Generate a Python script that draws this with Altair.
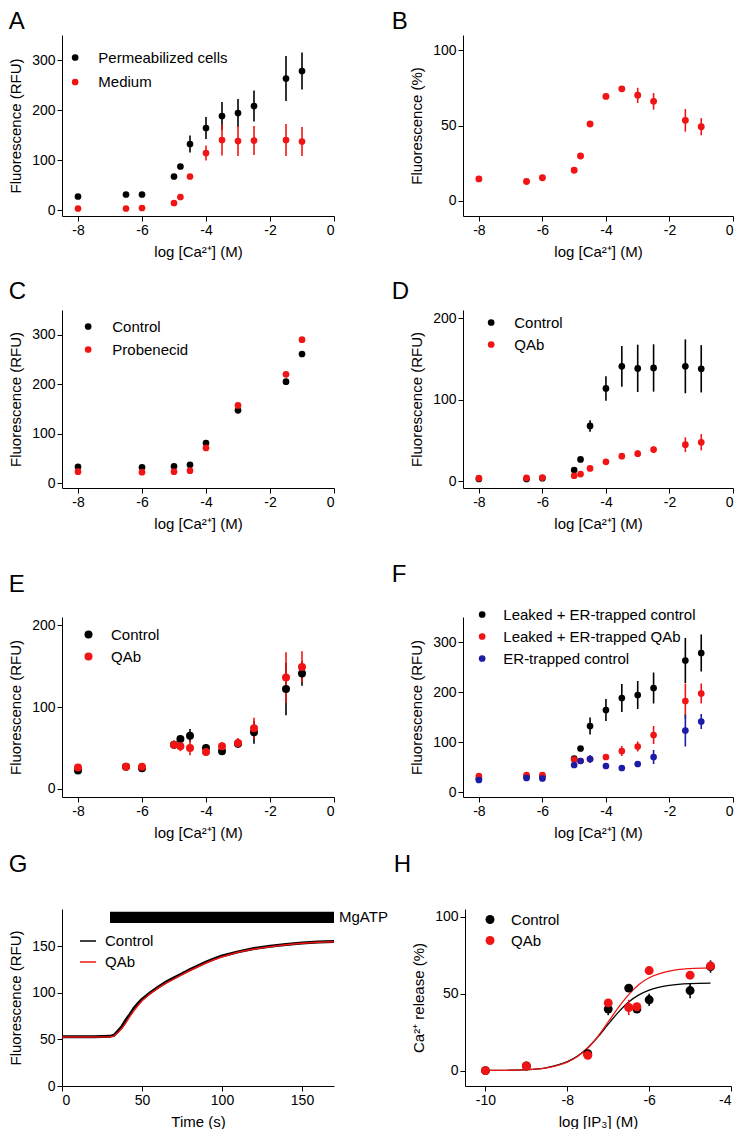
import altair as alt
import pandas as pd

FONT = "Liberation Sans"
BLACK = "#000000"
RED = "#f01414"
BLUE = "#1c1ca6"

# ---------------- data ----------------
ca_x = [-8, -6.5, -6, -5, -4.8, -4.5, -4, -3.5, -3, -2.5, -1.5, -1]

# A
a_perm = [27, 31, 31, 67, 87, 132, 164, 188, 194, 208, 263, 278]
a_perm_err = [0, 0, 0, 0, 0, 17, 22, 28, 28, 31, 45, 37]
a_med = [3, 3, 4, 14, 26, 67, 114, 140, 138, 139, 140, 137]
a_med_err = [0, 0, 0, 0, 0, 0, 15, 31, 30, 29, 32, 29]

# B
b_pct = [14.6, 12.9, 15.3, 20.3, 29.8, 51, 69.3, 74.3, 70, 66, 53.4, 49.2]
b_err = [0, 0, 0, 0, 0, 0, 0, 0, 5, 5.5, 7.5, 5.7]

# C
c_x = [-8, -6, -5, -4.5, -4, -3, -1.5, -1]
c_ctrl = [33, 32, 34, 37, 81, 147, 205, 261]
c_prob = [23, 22, 23, 25, 71, 157, 220, 290]
c_err = [0, 0, 0, 0, 0, 0, 0, 0]

# D
d_ctrl = [3, 3, 4, 14, 27, 68, 114, 141, 138.5, 139, 141, 138]
d_ctrl_err = [0, 0, 0, 0, 0, 7, 15, 25, 29, 29, 33, 29]
d_qab = [4, 4.4, 4.8, 7, 9, 16, 24, 31, 34, 39, 45, 48]
d_qab_err = [0, 0, 0, 0, 0, 0, 0, 0, 4, 4, 9, 10]

# E
e_ctrl = [22.4, 27, 25, 54, 61, 65, 50, 46, 55, 69, 122, 141]
e_ctrl_err = [0, 0, 0, 0, 0, 8, 4, 3, 0, 14, 32, 15]
e_qab = [26, 27, 27, 54, 52, 50, 45, 52, 56, 74, 136, 149]
e_qab_err = [0, 0, 0, 5, 6, 9, 5, 5, 6, 13, 31, 19]

# F
f_black = [27, 31, 31, 67, 87, 132, 164, 188, 194, 208, 263, 278]
f_black_err = [0, 0, 0, 0, 0, 17, 22, 28, 28, 31, 45, 37]
f_red = [32, 34, 34, 65, 62, 66, 70, 82, 91, 114, 182, 197]
f_red_err = [0, 0, 0, 0, 0, 0, 0, 10, 10, 18, 35, 20]
f_blue = [24, 28, 27, 54, 62, 66, 52, 48, 56, 70, 123, 141]
f_blue_err = [0, 0, 0, 0, 0, 8, 4, 3, 0, 14, 32, 15]

# G
g_t = [0, 10, 20, 30, 32.5, 35, 37.5, 40, 42.5, 45, 47.5, 50, 55, 60, 65, 70,
       75, 80, 85, 90, 95, 100, 110, 120, 130, 140, 150, 160, 170]
g_ctrl = [53, 53, 53, 53.3, 54.5, 59, 64, 71, 77, 83.5, 88.5, 93, 100, 106,
          111.5, 116, 120.5, 125, 129, 133, 136.5, 139.6, 144, 147.6, 150,
          152, 153.5, 154.5, 155]
g_qab = [52.5, 52.5, 52.5, 52.8, 53.5, 57.5, 62, 68, 75, 81, 86.5, 91.5, 99,
         105, 110.5, 115, 119.5, 124, 128, 132, 135.5, 138.8, 143.5, 147,
         149.6, 151.6, 153.2, 154.2, 154.8]
mgatp_start = [30]
mgatp_end = [170]
mgatp_low = [175]
mgatp_high = [187]

# H
h_x = [-10, -9, -7.5, -7, -6.5, -6.3, -6, -5, -4.5]
h_ctrl = [0, 3, 11, 40, 53.6, 40, 46, 52, 67.6]
h_ctrl_err = [0, 0, 0, 4, 0, 2, 4, 5, 4]
h_qab = [0, 3, 10, 44, 41, 41.5, 65, 62, 68]
h_qab_err = [0, 0, 0, 0, 5, 0, 0, 0, 0]
h_fit_x = [-10, -9.5, -9, -8.5, -8, -7.75, -7.5, -7.25, -7, -6.75, -6.5,
           -6.25, -6, -5.5, -5, -4.5]
h_fit_ctrl = [0.1, 0.2, 0.6, 2.0, 5.8, 9.5, 14.9, 22, 30.2, 38, 44.6, 49.2,
              52.3, 55.4, 56.5, 56.8]
h_fit_qab = [0.1, 0.2, 0.6, 1.8, 5.5, 9.2, 14.7, 22.3, 31.6, 41.1, 49.4,
             55.9, 60.3, 64.7, 66.3, 66.8]

CA_TITLE = "log [Ca\u00b2\u207a] (M)"
LBL = "'' + datum.value"
TFS = 15  # axis title / legend font size


def frame(xs, series):
    rows = []
    for name, ys, errs in series:
        for x, y, e in zip(xs, ys, errs):
            rows.append({"x": x, "y": y, "lo": y - e, "hi": y + e, "s": name})
    return pd.DataFrame(rows)


def legend(cx, cy, label_start, step, size):
    d = size ** 0.5
    return alt.Legend(orient="none", legendX=cx - d / 2 - 1, legendY=cy - 7,
                      title=None, symbolType="circle", symbolSize=size,
                      labelOffset=label_start - cx - d / 2 - 2,
                      rowPadding=step - TFS, padding=0, labelLimit=400,
                      symbolOpacity=1, symbolStrokeWidth=0)


def title(letter, off, dx=0):
    return alt.TitleParams(letter, anchor="start", frame="bounds", offset=off,
                           fontSize=24, fontWeight="normal", font=FONT,
                           color="black", dx=dx)


def axes(xdom, xvals, xtitle, ydom, yvals, ytitle):
    xs = alt.Scale(domain=xdom, nice=False, zero=False)
    ys = alt.Scale(domain=ydom, nice=False, zero=False)
    xa = alt.Axis(values=xvals, title=xtitle, labelExpr=LBL)
    ya = alt.Axis(values=yvals, title=ytitle, labelExpr=LBL)
    return xs, ys, xa, ya


def dot_panel(letter, df, names, colors, xdom, xvals, xtitle, ydom, yvals,
              ytitle, size, leg, w, h, toff, tdx=0):
    xs, ys, xa, ya = axes(xdom, xvals, xtitle, ydom, yvals, ytitle)
    cs = alt.Scale(domain=names, range=colors)
    rules = alt.Chart(df).mark_rule(strokeWidth=1.6).encode(
        x=alt.X("x:Q", scale=xs, axis=xa, title=xtitle),
        y=alt.Y("lo:Q", scale=ys, axis=ya, title=ytitle),
        y2="hi:Q",
        color=alt.Color("s:N", scale=cs, legend=leg),
    )
    pts = alt.Chart(df).mark_circle(size=size, opacity=1).encode(
        x=alt.X("x:Q", scale=xs, axis=xa, title=xtitle),
        y=alt.Y("y:Q", scale=ys, axis=ya, title=ytitle),
        color=alt.Color("s:N", scale=cs, legend=leg),
    )
    return alt.layer(rules, pts).properties(width=w, height=h,
                                             title=title(letter, toff, tdx))


WL = 272   # left column plot width
WR = 270   # right column plot width
WH = 266   # panel H plot width
H1, H2, H3, H4 = 181, 178, 180, 177
RDX = -18  # letters of the right-hand column sit left of the axis title

A = dot_panel("A", frame(ca_x, [("Permeabilized cells", a_perm, a_perm_err),
                                ("Medium", a_med, a_med_err)]),
              ["Permeabilized cells", "Medium"], [BLACK, RED],
              [-8.5, 0], [-8, -6, -4, -2, 0], CA_TITLE,
              [-12, 350], [0, 100, 200, 300], "Fluorescence (RFU)",
              45, legend(10, 22, 31, 23.5, 45), WL, H1, 1)

B = dot_panel("B", frame(ca_x, [("Medium", b_pct, b_err)]),
              ["Medium"], [RED],
              [-8.5, 0], [-8, -6, -4, -2, 0], CA_TITLE,
              [-10, 110], [0, 50, 100], "Fluorescence (%)",
              48, None, WR, H1, 1, RDX)

C = dot_panel("C", frame(c_x, [("Control", c_ctrl, c_err),
                               ("Probenecid", c_prob, c_err)]),
              ["Control", "Probenecid"], [BLACK, RED],
              [-8.5, 0], [-8, -6, -4, -2, 0], CA_TITLE,
              [-10, 350], [0, 100, 200, 300], "Fluorescence (RFU)",
              45, legend(23, 16, 45, 22, 45), WL, H2, 6)

D = dot_panel("D", frame(ca_x, [("Control", d_ctrl, d_ctrl_err),
                                ("QAb", d_qab, d_qab_err)]),
              ["Control", "QAb"], [BLACK, RED],
              [-8.5, 0], [-8, -6, -4, -2, 0], CA_TITLE,
              [-8, 210], [0, 100, 200], "Fluorescence (RFU)",
              45, legend(25, 12, 46, 21, 45), WR, H2, 6, RDX)

E = dot_panel("E", frame(ca_x, [("Control", e_ctrl, e_ctrl_err),
                                ("QAb", e_qab, e_qab_err)]),
              ["Control", "QAb"], [BLACK, RED],
              [-8.5, 0], [-8, -6, -4, -2, 0], CA_TITLE,
              [-10, 210], [0, 100, 200], "Fluorescence (RFU)",
              64, legend(24, 17, 45, 21, 64), WL, H3, 20)

F = dot_panel("F", frame(ca_x, [("Leaked + ER-trapped control", f_black, f_black_err),
                                ("Leaked + ER-trapped QAb", f_red, f_red_err),
                                ("ER-trapped control", f_blue, f_blue_err)]),
              ["Leaked + ER-trapped control", "Leaked + ER-trapped QAb",
               "ER-trapped control"], [BLACK, RED, BLUE],
              [-8.5, 0], [-8, -6, -4, -2, 0], CA_TITLE,
              [-10, 350], [0, 100, 200, 300], "Fluorescence (RFU)",
              45, legend(16, -3, 35, 21, 45), WR, H3, 20, RDX)

# ---- G ----
gxs, gys, gxa, gya = axes([0, 170], [0, 50, 100, 150], "Time (s)",
                          [0, 190], [0, 50, 100, 150], "Fluorescence (RFU)")
gdf = pd.DataFrame({"t": g_t + g_t, "v": g_ctrl + g_qab,
                    "s": ["Control"] * len(g_t) + ["QAb"] * len(g_t)})
gcs = alt.Scale(domain=["Control", "QAb"], range=[BLACK, RED])
g_leg = alt.Legend(orient="none", legendX=17, legendY=23, title=None,
                   symbolType="stroke", symbolSize=256, symbolStrokeWidth=1.5,
                   labelOffset=8, rowPadding=4, padding=0, labelLimit=400)
g_ctrl_line = alt.Chart(gdf).transform_filter("datum.s == 'Control'").mark_line(
    strokeWidth=3).encode(
    x=alt.X("t:Q", scale=gxs, axis=gxa, title="Time (s)"),
    y=alt.Y("v:Q", scale=gys, axis=gya, title="Fluorescence (RFU)"),
    color=alt.Color("s:N", scale=gcs, legend=g_leg))
g_qab_line = alt.Chart(gdf).transform_filter("datum.s == 'QAb'").mark_line(
    strokeWidth=1.5).encode(
    x=alt.X("t:Q", scale=gxs, axis=gxa, title="Time (s)"),
    y=alt.Y("v:Q", scale=gys, axis=gya, title="Fluorescence (RFU)"),
    color=alt.Color("s:N", scale=gcs, legend=g_leg))
bar_df = pd.DataFrame({"x0": mgatp_start, "x1": mgatp_end,
                       "y0": mgatp_low, "y1": mgatp_high,
                       "ym": [(a + b) / 2 for a, b in zip(mgatp_low, mgatp_high)],
                       "label": ["MgATP"]})
g_bar = alt.Chart(bar_df).mark_rect(color="black").encode(
    x=alt.X("x0:Q", scale=gxs, axis=gxa, title="Time (s)"), x2="x1:Q",
    y=alt.Y("y0:Q", scale=gys, axis=gya, title="Fluorescence (RFU)"), y2="y1:Q")
g_text = alt.Chart(bar_df).mark_text(align="left", baseline="middle", dx=5,
                                     fontSize=TFS, font=FONT, color="black").encode(
    x=alt.X("x1:Q", scale=gxs, axis=gxa, title="Time (s)"),
    y=alt.Y("ym:Q", scale=gys, axis=gya, title="Fluorescence (RFU)"),
    text="label:N")
G = alt.layer(g_bar, g_text, g_ctrl_line, g_qab_line).properties(
    width=WL, height=H4, title=title("G", 32))

# ---- H ----
H_TITLE_X = "log [IP\u2083] (M)"
H_TITLE_Y = "Ca\u00b2\u207a release (%)"
hxs, hys, hxa, hya = axes([-10.5, -4], [-10, -8, -6, -4], H_TITLE_X,
                          [-10, 105], [0, 50, 100], H_TITLE_Y)
hcs = alt.Scale(domain=["Control", "QAb"], range=[BLACK, RED])
h_leg = legend(23, 10, 43, 20, 80)
hdf = frame(h_x, [("Control", h_ctrl, h_ctrl_err), ("QAb", h_qab, h_qab_err)])
fitdf = pd.DataFrame({"x": h_fit_x + h_fit_x, "y": h_fit_ctrl + h_fit_qab,
                      "s": ["Control"] * len(h_fit_x) + ["QAb"] * len(h_fit_x)})
h_curves = alt.Chart(fitdf).mark_line(strokeWidth=1.3, interpolate="monotone").encode(
    x=alt.X("x:Q", scale=hxs, axis=hxa, title=H_TITLE_X),
    y=alt.Y("y:Q", scale=hys, axis=hya, title=H_TITLE_Y),
    color=alt.Color("s:N", scale=hcs, legend=h_leg))
h_rules = alt.Chart(hdf).mark_rule(strokeWidth=1.6).encode(
    x=alt.X("x:Q", scale=hxs, axis=hxa, title=H_TITLE_X),
    y=alt.Y("lo:Q", scale=hys, axis=hya, title=H_TITLE_Y), y2="hi:Q",
    color=alt.Color("s:N", scale=hcs, legend=h_leg))
h_pts = alt.Chart(hdf).mark_circle(size=80, opacity=1).encode(
    x=alt.X("x:Q", scale=hxs, axis=hxa, title=H_TITLE_X),
    y=alt.Y("y:Q", scale=hys, axis=hya, title=H_TITLE_Y),
    color=alt.Color("s:N", scale=hcs, legend=h_leg))
Hp = alt.layer(h_curves, h_rules, h_pts).properties(width=WH, height=H4,
                                                   title=title("H", 32, RDX))


def ind(c):
    return c.resolve_scale(color="independent").resolve_legend(color="independent")


# spacing between plot areas (flush bounds)
SP = 129
row1 = ind(alt.hconcat(A, B, spacing=SP, bounds="flush"))
row2 = ind(alt.hconcat(C, D, spacing=SP, bounds="flush"))
row3 = ind(alt.hconcat(E, F, spacing=SP, bounds="flush"))
row4 = ind(alt.hconcat(G, Hp, spacing=131, bounds="flush"))
top = ind(alt.vconcat(row1, row2, spacing=21))
bottom = ind(alt.vconcat(row3, row4, spacing=13))
chart = ind(alt.vconcat(top, bottom, spacing=32)).configure_view(stroke=None).configure_axis(
    domainColor="black", tickColor="black", labelColor="black", titleColor="black",
    labelFont=FONT, titleFont=FONT, labelFontSize=14, titleFontSize=TFS,
    titleFontWeight="normal", tickSize=5, domainWidth=1, tickWidth=1, grid=False,
    labelPadding=2,
).configure_axisY(titlePadding=8).configure_axisX(titlePadding=7).configure_legend(
    labelFont=FONT, labelFontSize=TFS, labelColor="black"
).properties(padding={"left": 0, "top": 2, "right": 0, "bottom": 0})

chart.save("out.html", embed_options={"renderer": "svg", "actions": False})
